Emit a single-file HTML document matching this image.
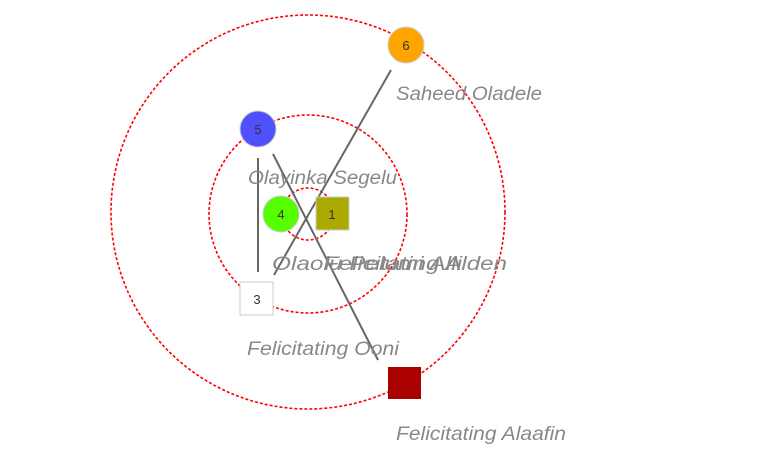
<!DOCTYPE html>
<html><head><style>body{margin:0;background:#fff}svg{display:block}</style></head><body>
<svg width="776" height="472" viewBox="0 0 776 472" xmlns="http://www.w3.org/2000/svg">
<g fill="none" stroke="#f00" stroke-width="1.6" stroke-dasharray="3,2">
<circle cx="308" cy="212" r="197"/>
<circle cx="308" cy="214" r="99"/>
<circle cx="308" cy="214" r="26"/>
</g>
<g stroke="#666" stroke-width="2">
<line x1="391" y1="70" x2="274" y2="275"/>
<line x1="258" y1="158" x2="258" y2="272"/>
<line x1="273" y1="154" x2="378" y2="360"/>
</g>
<g font-family="Liberation Sans, sans-serif" font-size="19" font-style="italic" fill="#888" lengthAdjust="spacingAndGlyphs">
<text x="396" y="100" textLength="146" lengthAdjust="spacingAndGlyphs">Saheed Oladele</text>
<text x="248" y="184" textLength="149" lengthAdjust="spacingAndGlyphs">Olayinka Segelu</text>
<text x="272" y="270" textLength="190" lengthAdjust="spacingAndGlyphs">Olaolu Pelumi Alli</text>
<text x="324" y="270" textLength="183" lengthAdjust="spacingAndGlyphs">Felicitating Alden</text>
<text x="247" y="355" textLength="152" lengthAdjust="spacingAndGlyphs">Felicitating Ooni</text>
<text x="396" y="440" textLength="170" lengthAdjust="spacingAndGlyphs">Felicitating Alaafin</text>
</g>
<circle cx="406" cy="45" r="18" fill="#ffa500" stroke="#ccc"/>
<circle cx="258" cy="129" r="18" fill="#5050ff" stroke="#ccc"/>
<circle cx="281" cy="214" r="18" fill="#5f0" stroke="#ccc"/>
<rect x="316" y="197" width="33" height="33" fill="#aa0" stroke="#ccc"/>
<rect x="240" y="282" width="33" height="33" fill="#fff" stroke="#ccc"/>
<rect x="388" y="367" width="33" height="32" fill="#a00"/>
<g font-family="Liberation Sans, sans-serif" font-size="13" fill="#333" text-anchor="middle">
<text x="406" y="50">6</text>
<text x="258" y="134">5</text>
<text x="281" y="219">4</text>
<text x="332" y="219">1</text>
<text x="257" y="304">3</text>
</g>
</svg>
</body></html>
